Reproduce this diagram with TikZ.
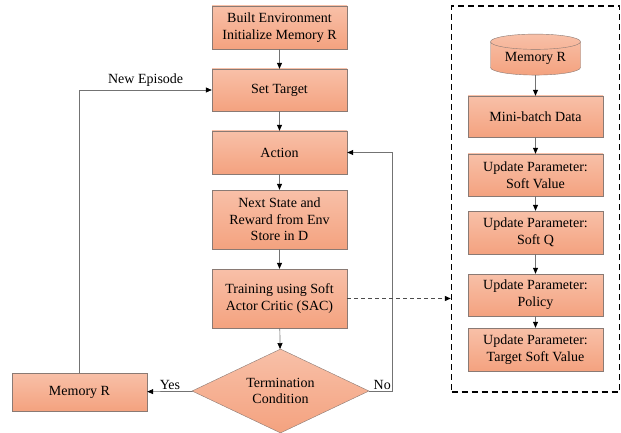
\documentclass[tikz,border=0pt]{standalone}
\usepackage{fontspec}
\setmainfont{Liberation Serif}
\usetikzlibrary{positioning,shapes.geometric,arrows.meta}
\definecolor{salmontop}{HTML}{F8C0A8}
\definecolor{salmonbot}{HTML}{F4A27F}
\definecolor{edgegray}{HTML}{8A7A74}

\begin{document}
\begin{tikzpicture}[x=1pt, y=-1pt,
    font=\fontsize{14}{16.7}\selectfont,
    block/.style={draw=edgegray, top color=salmontop, bottom color=salmonbot, minimum width=135pt, align=center, inner sep=0pt},
    flow/.style={draw=black!55, line width=0.7pt, -{Triangle[length=6pt, width=5pt, black]}},
    link/.style={draw=black!70, line width=1pt, dash pattern=on 4pt off 3pt, -{Triangle[length=6pt, width=5pt, black]}}]
    \useasboundingbox (0,0) rectangle (621,433);

    % Main loop (top to bottom)
    \node[block, minimum height=43pt] (Build) at (279.5,27.5) {Built Environment\\Initialize Memory R};
    \node[block, minimum height=42pt] (Target) at (279.5,90) {Set Target};
    \node[block, minimum height=43pt] (Act) at (279.5,152.5) {Action};
    \node[block, minimum height=59pt] (Next) at (279.5,219.5) {Next State and\\Reward from Env\\Store in D};
    \node[block, minimum height=59pt] (Train) at (279.5,298.5) {Training using Soft\\Actor Critic (SAC)};
    \node[block, diamond, shape aspect=2.2, minimum width=177pt, minimum height=84pt] (Check) at (280.5,391) {Termination\\Condition};
    \node[block, minimum height=38pt] (MemL) at (79.5,392) {Memory R};
    \coordinate (NoTurn) at (392,391);

    % SAC update steps
    \node[draw, line width=1.4pt, dash pattern=on 6pt off 4pt, minimum width=168pt, minimum height=386pt, inner sep=0pt] (Panel) at (535.5,199) {};
    \node[block, cylinder, shape border rotate=90, shape aspect=0.25, minimum width=90pt, minimum height=41pt] (Store) at (535.5,58.5) {Memory R};
    \node[block, minimum height=41pt] (Batch) at (535.5,116.5) {Mini-batch Data};
    \node[block, minimum height=42pt] (Value) at (535.5,175) {Update Parameter:\\Soft Value};
    \node[block, minimum height=43pt] (SoftQ) at (535.5,232.5) {Update Parameter:\\Soft Q};
    \node[block, minimum height=42pt] (Policy) at (535.5,295) {Update Parameter:\\Policy};
    \node[block, minimum height=43pt] (TValue) at (535.5,349.5) {Update Parameter:\\Target Soft Value};

    % Draw edges
    \draw[flow] (Build) -- (Target);
    \draw[flow] (Target) -- (Act);
    \draw[flow] (Act) -- (Next);
    \draw[flow] (Next) -- (Train);
    \draw[flow] (Train) -- (Check);
    \draw[flow] (Check) -- node[above, inner sep=2pt] {Yes} (MemL);
    \draw[flow] (Check.east) -- (NoTurn) |- (Act.east);
    \node[above left, inner sep=1pt] at (NoTurn) {No};
    \draw[flow] (MemL) |- node[above, pos=0.75, inner sep=3pt] {New Episode} (Target);
    \draw[link] (Train.east) -- (Train.east -| Panel.west);
    \draw[flow] (Store) -- (Batch);
    \draw[flow] (Batch) -- (Value);
    \draw[flow] (Value) -- (SoftQ);
    \draw[flow] (SoftQ) -- (Policy);
    \draw[flow] (Policy) -- (TValue);
\end{tikzpicture}
\end{document}
